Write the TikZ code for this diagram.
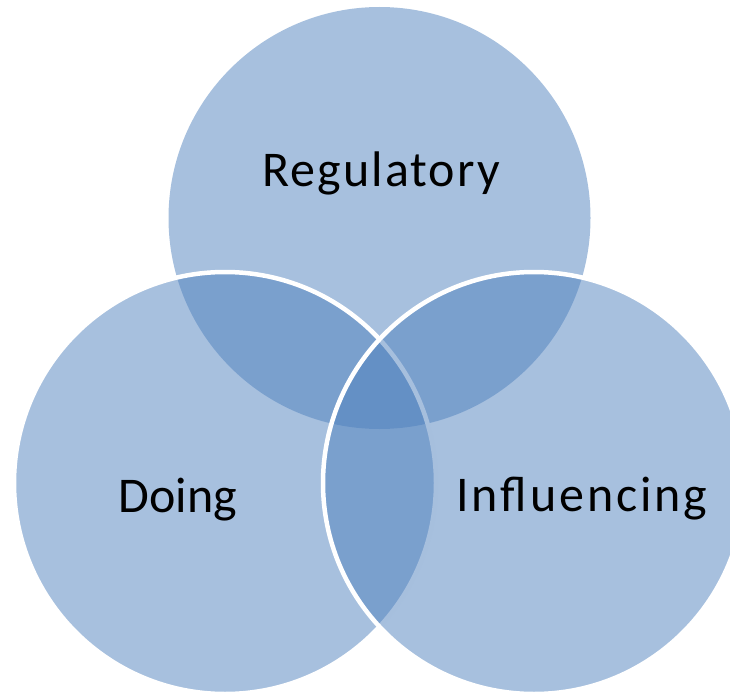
\documentclass[tikz,border=0pt]{standalone}
\usepackage{fontspec}
\setmainfont{Carlito}
\newfontfamily\regfont[LetterSpace=4.2]{Carlito}
\newfontfamily\inffont[LetterSpace=5.8]{Carlito}
\definecolor{accent}{RGB}{79,129,189}
\tikzset{
  venn/.style={circle, minimum size=422pt, inner sep=0pt, fill=accent, fill opacity=0.5, draw opacity=1},
  venno/.style={venn, draw=white, line width=4.5pt},
  lbl/.style={anchor=base, font=\fontsize{50}{58}\selectfont, text=black, inner sep=0pt}
}
\begin{document}
\begin{tikzpicture}[x=1pt,y=-1pt]
\useasboundingbox (0,0) rectangle (730,695);
\begin{scope}
\clip (0,0) rectangle (730,695);
\node[venn] (top) at (379.5,218) {};
\node[venno] (left) at (225,483) {};
\node[venno] (right) at (534,483) {};
\end{scope}
\node[lbl] (treg) at (381,186) {\regfont Regulatory};
\node[lbl] (tdo) at (178,512) {Doing};
\node[lbl] (tinf) at (582,511) {\inffont Influencing};
\end{tikzpicture}
\end{document}
